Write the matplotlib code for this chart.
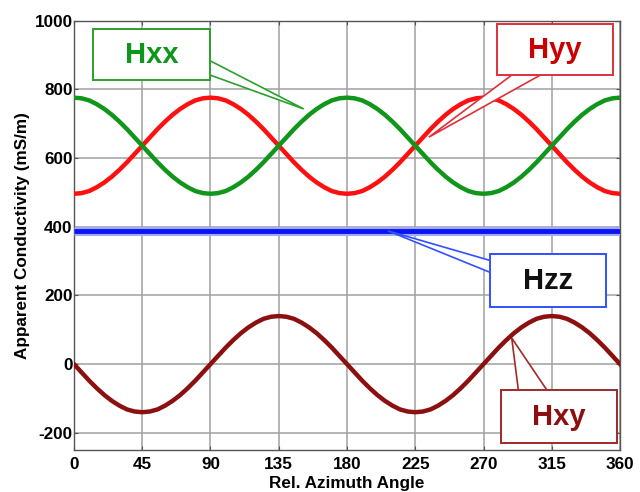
import matplotlib
matplotlib.use("Agg")
import matplotlib.pyplot as plt
from matplotlib.patches import Polygon, Rectangle

plt.rcParams['font.family'] = ['Liberation Sans', 'DejaVu Sans']

angle = list(range(0, 361, 5))

hxx = [776, 774, 768, 757, 743, 726, 706, 684, 660, 636, 612, 588, 566, 546, 529, 515, 504, 498, 496,
       498, 504, 515, 529, 546, 566, 588, 612, 636, 660, 684, 706, 726, 743, 757, 768, 774, 776,
       774, 768, 757, 743, 726, 706, 684, 660, 636, 612, 588, 566, 546, 529, 515, 504, 498, 496,
       498, 504, 515, 529, 546, 566, 588, 612, 636, 660, 684, 706, 726, 743, 757, 768, 774, 776]

hyy = [496, 498, 504, 515, 529, 546, 566, 588, 612, 636, 660, 684, 706, 726, 743, 757, 768, 774, 776,
       774, 768, 757, 743, 726, 706, 684, 660, 636, 612, 588, 566, 546, 529, 515, 504, 498, 496,
       498, 504, 515, 529, 546, 566, 588, 612, 636, 660, 684, 706, 726, 743, 757, 768, 774, 776,
       774, 768, 757, 743, 726, 706, 684, 660, 636, 612, 588, 566, 546, 529, 515, 504, 498, 496]

hzz = [388] * len(angle)

hxy = [0, -24, -48, -70, -90, -107, -121, -132, -138, -140, -138, -132, -121, -107, -90, -70, -48, -24, 0,
       24, 48, 70, 90, 107, 121, 132, 138, 140, 138, 132, 121, 107, 90, 70, 48, 24, 0,
       -24, -48, -70, -90, -107, -121, -132, -138, -140, -138, -132, -121, -107, -90, -70, -48, -24, 0,
       24, 48, 70, 90, 107, 121, 132, 138, 140, 138, 132, 121, 107, 90, 70, 48, 24, 0]

xticks = [0, 45, 90, 135, 180, 225, 270, 315, 360]
yticks = [-200, 0, 200, 400, 600, 800, 1000]

fig = plt.figure(figsize=(6.4, 4.92), dpi=100)
ax = fig.add_axes([0.1156, 0.0854, 0.8532, 0.8725])

ax.plot(angle, hzz, color='#a0a8ff', lw=6.5, solid_capstyle='butt', zorder=3)
ax.plot(angle, hzz, color='#0a14f0', lw=3.5, solid_capstyle='butt', zorder=3)
ax.plot(angle, hxx, color='#10961a', lw=3.2, zorder=4)
ax.plot(angle, hyy, color='#ff1010', lw=3.2, zorder=3)
ax.plot(angle, hxy, color='#8c1010', lw=3.2, zorder=3)

ax.set_xlim(0, 360)
ax.set_ylim(-250, 1000)
ax.set_xticks(xticks)
ax.set_yticks(yticks)
ax.set_xticklabels([str(t) for t in xticks], fontweight='bold', fontsize=12.3)
ax.set_yticklabels([str(t) for t in yticks], fontweight='bold', fontsize=12.3)
ax.tick_params(axis='both', direction='in', length=3, color='#555555', pad=5,
               top=True, right=True)
ax.tick_params(axis='y', pad=1)
ax.grid(True, color='#a0a0a0', lw=1.1)
for s in ax.spines.values():
    s.set_color('#555555')
    s.set_linewidth(1.0)

ax.set_ylabel('Apparent Conductivity (mS/m)', fontweight='bold', fontsize=12.3, labelpad=3)
ax.set_xlabel('Rel. Azimuth Angle', fontweight='bold', fontsize=12.3, labelpad=3)


def callout(x0, x1, y0, y1, wedge, edge, label, tcolor):
    rect = Rectangle((x0, y0), x1 - x0, y1 - y0, facecolor='white', edgecolor=edge,
                     lw=1.4, zorder=6, clip_on=False)
    tri = Polygon(wedge, closed=True, facecolor='white', edgecolor=edge, lw=1.2,
                  zorder=5.9, clip_on=False)
    ax.add_patch(tri)
    ax.add_patch(rect)
    ax.text((x0 + x1) / 2, (y0 + y1) / 2, label, ha='center', va='center', color=tcolor,
            fontsize=21, fontweight='bold', zorder=7)


callout(12.5, 89.5, 827, 975, [(89, 885), (89, 843), (151.5, 743)], '#2ca02c', 'Hxx', '#10961a')
callout(278.8, 355.3, 842, 990, [(289, 843), (308, 843), (234, 661)], '#e0303a', 'Hyy', '#cc0000')
callout(274.3, 350.8, 165, 322, [(275, 301), (275, 266), (207, 388)], '#3050ff', 'Hzz', '#111111')
callout(281.5, 358, -229, -76, [(293, -77), (312, -77), (288.6, 76)], '#a02a2a', 'Hxy', '#8c1010')

fig.savefig('out.png', dpi=100)
